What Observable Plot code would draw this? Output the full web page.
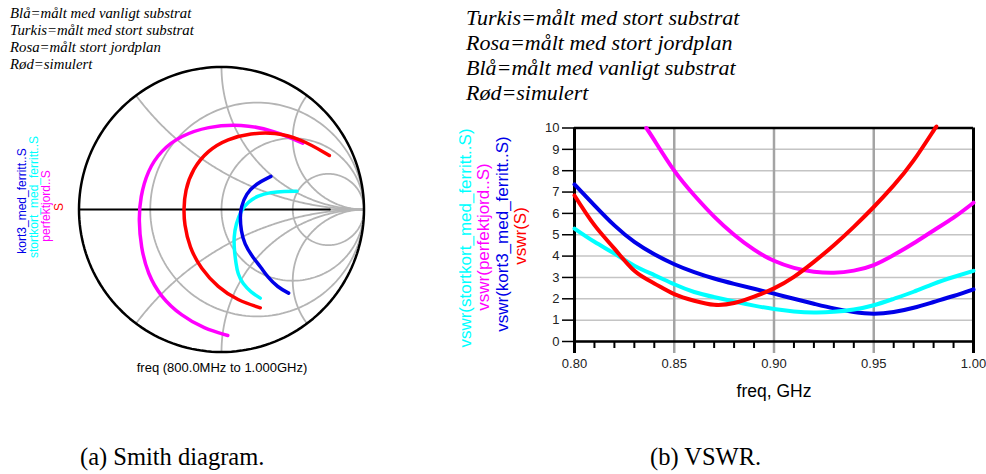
<!DOCTYPE html>
<html><head><meta charset="utf-8">
<script src="https://cdn.jsdelivr.net/npm/d3@7"></script>
<script src="https://cdn.jsdelivr.net/npm/@observablehq/plot@0.6"></script>
<style>
body{margin:0;background:#fff;}
#page{position:relative;width:986px;height:474px;overflow:hidden;background:#fff;}
.abs{position:absolute;white-space:nowrap;}
.legend{font-family:"Liberation Serif","Times New Roman",serif;font-style:italic;color:#000;}
.rot{position:absolute;white-space:nowrap;font-family:"Liberation Sans",Arial,sans-serif;transform:translate(-50%,-50%) rotate(-90deg);line-height:1;}
.cap{position:absolute;white-space:nowrap;font-family:"Liberation Serif","Times New Roman",serif;font-size:24.5px;color:#000;}
</style></head>
<body><div id="page"></div>
<script>
// ---------- Smith chart data (reflection coefficient, real / imaginary) ----------
const smithMagentaRe = [0.044,-0.121,-0.284,-0.425,-0.518,-0.565,-0.581,-0.570,-0.518,-0.425,-0.284,-0.097,0.137,0.371,0.570];
const smithMagentaIm = [-0.884,-0.837,-0.744,-0.615,-0.451,-0.265,-0.077,0.086,0.274,0.414,0.519,0.582,0.601,0.554,0.465];
const smithRedRe = [0.272,0.114,-0.027,-0.144,-0.226,-0.261,-0.265,-0.256,-0.202,-0.097,0.043,0.207,0.371,0.558,0.757];
const smithRedIm = [-0.690,-0.639,-0.545,-0.416,-0.265,-0.100,-0.002,0.133,0.285,0.414,0.496,0.535,0.542,0.496,0.379];
const smithBlueRe = [0.471,0.394,0.324,0.277,0.219,0.160,0.137,0.130,0.137,0.172,0.242,0.347];
const smithBlueIm = [-0.587,-0.545,-0.475,-0.405,-0.335,-0.241,-0.147,-0.054,0.016,0.110,0.180,0.232];
const smithCyanRe = [0.272,0.207,0.149,0.114,0.102,0.090,0.086,0.102,0.137,0.184,0.254,0.347,0.441,0.530];
const smithCyanIm = [-0.622,-0.580,-0.522,-0.451,-0.381,-0.288,-0.194,-0.100,-0.007,0.051,0.098,0.121,0.128,0.128];
const smithResistances = [1/3, 1, 3];
const smithReactances = [0.5, 1, 2, -0.5, -1, -2];

// ---------- VSWR data ----------
const freq = [0.80,0.81,0.82,0.83,0.84,0.85,0.86,0.87,0.88,0.89,0.90,0.91,0.92,0.93,0.94,0.95,0.96,0.97,0.98,0.99,1.00];
const vswrCyan = [5.29,4.67,4.12,3.55,3.11,2.68,2.32,2.08,1.87,1.68,1.52,1.41,1.36,1.39,1.50,1.70,2.00,2.33,2.70,3.02,3.31];
const vswrBlue = [7.36,6.38,5.44,4.67,4.09,3.62,3.25,2.95,2.70,2.47,2.24,2.00,1.77,1.55,1.38,1.30,1.38,1.58,1.85,2.13,2.44];
const freqRed = [0.80,0.81,0.82,0.83,0.84,0.85,0.86,0.87,0.88,0.89,0.90,0.91,0.92,0.93,0.94,0.95,0.96,0.97,0.98,0.981];
const vswrRed = [6.84,5.45,4.35,3.31,2.72,2.22,1.91,1.72,1.80,2.10,2.49,3.03,3.73,4.51,5.37,6.30,7.31,8.48,9.88,10.0];
const freqMagenta = [0.836,0.84,0.85,0.86,0.87,0.88,0.89,0.90,0.91,0.92,0.93,0.94,0.95,0.96,0.97,0.98,0.99,1.00];
const vswrMagenta = [10.0,9.43,8.0,6.85,5.85,5.0,4.3,3.78,3.45,3.27,3.22,3.32,3.58,4.05,4.6,5.2,5.8,6.5];
const yTicks = [0,1,2,3,4,5,6,7,8,9,10];
const xMajor = [0.85,0.90,0.95];
const xLabels = [0.80,0.85,0.90,0.95,1.00];
const xMinor = [0.81,0.82,0.83,0.84,0.86,0.87,0.88,0.89,0.91,0.92,0.93,0.94,0.96,0.97,0.98,0.99];

// ---------- texts ----------
const legendLeft = ["Blå=målt med vanligt substrat","Turkis=målt med stort substrat","Rosa=målt stort jordplan","Rød=simulert"];
const legendRight = ["Turkis=målt med stort substrat","Rosa=målt med stort jordplan","Blå=målt med vanligt substrat","Rød=simulert"];
const smithLabels = ["kort3_med_ferritt..S","stortkort_med_ferritt..S","perfektjord..S","S"];
const vswrLabels = ["vswr(stortkort_med_ferritt..S)","vswr(perfektjord..S)","vswr(kort3_med_ferritt..S)","vswr(S)"];
const COL = {cyan:"#00ffff", magenta:"#ff00ff", blue:"#0000e8", red:"#ff0000"};

const page = document.getElementById("page");
function addDiv(cls, text, css){ const d=document.createElement("div"); d.className=cls; d.textContent=text; Object.assign(d.style, css); page.appendChild(d); return d; }

// legends
const ll = addDiv("abs legend","",{left:"10px",top:"5px",fontSize:"14.8px",lineHeight:"17px"});
ll.innerHTML = legendLeft.join("<br>");
const lr = addDiv("abs legend","",{left:"466px",top:"5px",fontSize:"22px",lineHeight:"25px"});
lr.innerHTML = legendRight.join("<br>");

// smith rotated labels
[[smithLabels[0],22,201,COL.blue],[smithLabels[1],34,197,COL.cyan],[smithLabels[2],46,206,COL.magenta],[smithLabels[3],59,207,COL.red]]
 .forEach(([t,x,y,c])=>addDiv("rot",t,{left:x+"px",top:y+"px",color:c,fontSize:"12px"}));
// vswr rotated labels
[[vswrLabels[0],465,238,COL.cyan],[vswrLabels[1],483,237,COL.magenta],[vswrLabels[2],502,234,COL.blue],[vswrLabels[3],520,236,COL.red]]
 .forEach(([t,x,y,c])=>addDiv("rot",t,{left:x+"px",top:y+"px",color:c,fontSize:"17px"}));

// ---------- Smith chart ----------
function gammaOf(r,x){ const d=(r+1)*(r+1)+x*x; return [(r*r-1+x*x)/d, 2*x/d]; }
const grid = [];
smithResistances.forEach((r,i)=>{ for(let k=0;k<=180;k++){ const t=2*Math.PI*k/180; grid.push({id:"r"+i, re:r/(1+r)+Math.cos(t)/(1+r), im:Math.sin(t)/(1+r)}); } });
smithReactances.forEach((x,i)=>{ for(let k=0;k<200;k++){ const r=Math.tan(k/200*Math.PI/2); const [a,b]=gammaOf(r,x); grid.push({id:"x"+i,re:a,im:b}); } grid.push({id:"x"+i,re:1,im:0}); });
const outer = d3.range(0,361,2).map(a=>({re:Math.cos(a*Math.PI/180), im:Math.sin(a*Math.PI/180)}));
const toRows = (re,im)=>re.map((v,i)=>({re:v,im:im[i]}));
const S = 142.5, half = 150/S;
const smith = Plot.plot({
  width:300, height:300, margin:0,
  x:{domain:[-half,half], axis:null}, y:{domain:[-half,half], axis:null},
  style:{overflow:"visible", background:"transparent"},
  marks:[
    Plot.line(grid,{x:"re",y:"im",z:"id",stroke:"#b4b4b4",strokeWidth:1.8}),
    Plot.line([{re:0.76,im:0},{re:1,im:0}],{x:"re",y:"im",stroke:"#b4b4b4",strokeWidth:1.8}),
    Plot.line([{re:-1,im:0},{re:0.76,im:0}],{x:"re",y:"im",stroke:"#000",strokeWidth:2}),
    Plot.line(outer,{x:"re",y:"im",stroke:"#000",strokeWidth:2.5}),
    Plot.line(toRows(smithMagentaRe,smithMagentaIm),{x:"re",y:"im",stroke:COL.magenta,strokeWidth:3.5,curve:"basis"}),
    Plot.line(toRows(smithRedRe,smithRedIm),{x:"re",y:"im",stroke:COL.red,strokeWidth:3.5,curve:"basis"}),
    Plot.line(toRows(smithCyanRe,smithCyanIm),{x:"re",y:"im",stroke:COL.cyan,strokeWidth:3.5,curve:"basis"}),
    Plot.line(toRows(smithBlueRe,smithBlueIm),{x:"re",y:"im",stroke:COL.blue,strokeWidth:3.5,curve:"basis"})
  ]
});
Object.assign(smith.style,{position:"absolute",left:"70.5px",top:"59px"});
page.appendChild(smith);
addDiv("abs","freq (800.0MHz to 1.000GHz)",{left:"222px",top:"367px",transform:"translate(-50%,-50%)",fontFamily:"'Liberation Sans',Arial,sans-serif",fontSize:"13px",color:"#000"});

// ---------- VSWR chart ----------
const rows = (f,v)=>f.map((x,i)=>({f:x,v:v[i]}));
const vswr = Plot.plot({
  width:546, height:300, marginLeft:134, marginRight:13, marginTop:17.5, marginBottom:69,
  x:{domain:[0.8,1.0], axis:null}, y:{domain:[0,10], axis:null},
  style:{overflow:"visible", background:"transparent", fontFamily:"'Liberation Sans',Arial,sans-serif", fontSize:"13px", color:"#222"},
  marks:[
    Plot.gridY(yTicks,{stroke:"#c4c4c4",strokeOpacity:1,strokeWidth:1.5}),
    Plot.gridX(xMajor,{stroke:"#a4a4a4",strokeOpacity:1,strokeWidth:2.5}),
    Plot.axisX(xMajor,{tickSize:12,stroke:"#a4a4a4",strokeWidth:2.5,tickFormat:()=>"",label:null}),
    Plot.axisX(xMinor,{tickSize:7,stroke:"#000",strokeWidth:2,tickFormat:()=>"",label:null}),
    Plot.axisX(xLabels,{tickSize:0,tickPadding:17,tickFormat:d3.format(".2f"),label:null,fontSize:13}),
    Plot.axisY(yTicks,{tickSize:12,tickPadding:3,stroke:"#000",strokeWidth:1.5,label:null,fontSize:13}),
    Plot.ruleY([0,10],{stroke:"#000",strokeWidth:2.5}),
    Plot.ruleX([0.8,1.0],{stroke:"#000",strokeWidth:3,insetBottom:-12}),
    Plot.line(rows(freq,vswrBlue),{x:"f",y:"v",stroke:COL.blue,strokeWidth:4,curve:"natural"}),
    Plot.line(rows(freq,vswrCyan),{x:"f",y:"v",stroke:COL.cyan,strokeWidth:4,curve:"natural"}),
    Plot.line(rows(freqMagenta,vswrMagenta),{x:"f",y:"v",stroke:COL.magenta,strokeWidth:4,curve:"natural"}),
    Plot.line(rows(freqRed,vswrRed),{x:"f",y:"v",stroke:COL.red,strokeWidth:4,curve:"natural"}),
    Plot.text(["freq, GHz"],{frameAnchor:"bottom",dy:55,fontSize:17.5,fill:"#000"})
  ]
});
Object.assign(vswr.style,{position:"absolute",left:"440px",top:"110px"});
page.appendChild(vswr);

// captions
addDiv("cap","(a) Smith diagram.",{left:"80px",top:"443px"});
addDiv("cap","(b) VSWR.",{left:"650px",top:"443px"});
</script></body></html>
